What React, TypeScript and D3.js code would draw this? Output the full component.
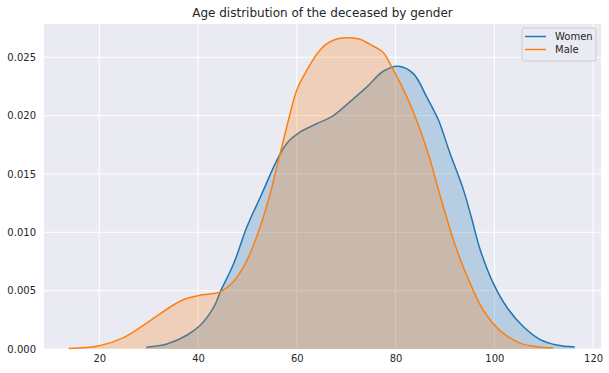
import { useEffect, useRef } from "react";
import * as d3 from "d3";

// KDE curves (age, density)
const womenAge: number[] = [29.5, 33.7, 37.8, 40.5, 43.2, 44.5, 47.2, 49.9, 52.6, 56.0, 58.0, 60.7, 64.0, 67.4, 70.8, 74.2, 77.5, 80.6, 83.6, 86.3, 88.7, 91.0, 93.7, 95.4, 97.1, 99.8, 102.5, 105.9, 109.2, 112.6, 116.3];
const womenDensity: number[] = [0.00015, 0.00043, 0.0012, 0.00205, 0.0036, 0.0049, 0.0073, 0.01047, 0.013, 0.0162, 0.01764, 0.0186, 0.0193, 0.02, 0.0212, 0.02246, 0.0238, 0.02423, 0.0236, 0.0216, 0.0196, 0.0168, 0.0137, 0.0112, 0.00855, 0.00562, 0.0036, 0.0019, 0.00083, 0.00034, 0.00017];

const maleAge: number[] = [13.8, 20, 25, 30, 35, 37.5, 40.5, 44.5, 47.2, 49.9, 52.6, 54.6, 56.3, 58.3, 60.0, 62.05, 64.1, 66.1, 68.1, 70.5, 72.8, 74.85, 77.5, 79.2, 82.3, 85.0, 87.0, 88.5, 90.5, 92.4, 95.1, 97.8, 101.1, 105.2, 108.5, 111.9];
const maleDensity: number[] = [0.00005, 0.00028, 0.001, 0.00234, 0.00377, 0.0043, 0.00462, 0.0049, 0.0058, 0.0076, 0.0105, 0.0133, 0.0162, 0.0196, 0.0222, 0.0239, 0.0253, 0.02617, 0.02657, 0.02668, 0.02655, 0.0261, 0.0254, 0.0242, 0.0216, 0.01875, 0.0162, 0.0139, 0.011, 0.00848, 0.00562, 0.0033, 0.0016, 0.0005, 0.0002, 0.0001];

const xTicks: number[] = [20, 40, 60, 80, 100, 120];
const yTicks: number[] = [0, 0.005, 0.01, 0.015, 0.02, 0.025];
const seriesNames: string[] = ["Women", "Male"];
const seriesColors: string[] = ["#1f77b4", "#ff7f0e"];

function App() {
  const svgRef = useRef<SVGSVGElement>(null);

  useEffect(() => {
    if (!svgRef.current) return;
    const svg = d3.select(svgRef.current);
    svg.selectAll("*").remove();

    const width = 609;
    const height = 373;
    const margin = { top: 24, left: 44, right: 8, bottom: 24 };
    const innerWidth = width - margin.left - margin.right;
    const innerHeight = height - margin.top - margin.bottom;

    const x = d3.scaleLinear().domain([8.8, 121.6]).range([0, innerWidth]);
    const y = d3.scaleLinear().domain([0, 0.02785]).range([innerHeight, 0]);

    const font = "DejaVu Sans, sans-serif";

    const g = svg.append("g").attr("transform", `translate(${margin.left},${margin.top})`);

    // background
    g.append("rect").attr("width", innerWidth).attr("height", innerHeight).attr("fill", "#eaeaf2");

    // grid
    g.append("g")
      .selectAll("line")
      .data(xTicks)
      .join("line")
      .attr("x1", (d) => x(d))
      .attr("x2", (d) => x(d))
      .attr("y1", 0)
      .attr("y2", innerHeight)
      .attr("stroke", "#fff")
      .attr("stroke-width", 1);
    g.append("g")
      .selectAll("line")
      .data(yTicks)
      .join("line")
      .attr("x1", 0)
      .attr("x2", innerWidth)
      .attr("y1", (d) => y(d))
      .attr("y2", (d) => y(d))
      .attr("stroke", "#fff")
      .attr("stroke-width", 1);

    const series = [
      womenAge.map((a, i) => [a, womenDensity[i]] as [number, number]),
      maleAge.map((a, i) => [a, maleDensity[i]] as [number, number]),
    ];

    const curve = d3.curveCatmullRom.alpha(0.5);
    const line = d3
      .line<[number, number]>()
      .x((d) => x(d[0]))
      .y((d) => y(d[1]))
      .curve(curve);
    const area = d3
      .area<[number, number]>()
      .x((d) => x(d[0]))
      .y0(y(0))
      .y1((d) => y(d[1]))
      .curve(curve);

    // line first, then shaded fill on top (like seaborn's shade)
    series.forEach((pts, i) => {
      g.append("path")
        .datum(pts)
        .attr("d", line)
        .attr("fill", "none")
        .attr("stroke", seriesColors[i])
        .attr("stroke-width", 1.5);
      g.append("path")
        .datum(pts)
        .attr("d", area)
        .attr("fill", seriesColors[i])
        .attr("fill-opacity", 0.25);
    });

    // axes (labels only, seaborn darkgrid has no spines)
    const xAxis = g
      .append("g")
      .attr("transform", `translate(0,${innerHeight})`)
      .call(d3.axisBottom(x).tickValues(xTicks).tickSize(0).tickPadding(6));
    xAxis.select(".domain").remove();
    xAxis.selectAll("text").attr("font-family", font).attr("font-size", 10).attr("fill", "#262626");

    const yAxis = g
      .append("g")
      .call(d3.axisLeft(y).tickValues(yTicks).tickFormat(d3.format(".3f")).tickSize(0).tickPadding(8));
    yAxis.select(".domain").remove();
    yAxis.selectAll("text").attr("font-family", font).attr("font-size", 10).attr("fill", "#262626");

    // title
    svg
      .append("text")
      .attr("x", margin.left + innerWidth / 2)
      .attr("y", 17)
      .attr("text-anchor", "middle")
      .attr("font-family", font)
      .attr("font-size", 12)
      .attr("fill", "#262626")
      .text("Age distribution of the deceased by gender");

    // legend
    const lg = svg.append("g").attr("transform", "translate(522,28)");
    lg.append("rect")
      .attr("width", 74)
      .attr("height", 33)
      .attr("rx", 2.5)
      .attr("fill", "#eaeaf2")
      .attr("fill-opacity", 0.8)
      .attr("stroke", "#cccccc")
      .attr("stroke-width", 1);
    seriesNames.forEach((name, i) => {
      const yy = 8.5 + i * 13;
      lg.append("line")
        .attr("x1", 3)
        .attr("x2", 24)
        .attr("y1", yy)
        .attr("y2", yy)
        .attr("stroke", seriesColors[i])
        .attr("stroke-width", 1.5);
      lg.append("text")
        .attr("x", 33)
        .attr("y", yy + 3.5)
        .attr("font-family", font)
        .attr("font-size", 10)
        .attr("fill", "#262626")
        .text(name);
    });
  }, []);

  return (
    <svg
      ref={svgRef}
      width={609}
      height={373}
      style={{ position: "absolute", left: 0, top: 0, background: "#fff" }}
    ></svg>
  );
}

export default App;
